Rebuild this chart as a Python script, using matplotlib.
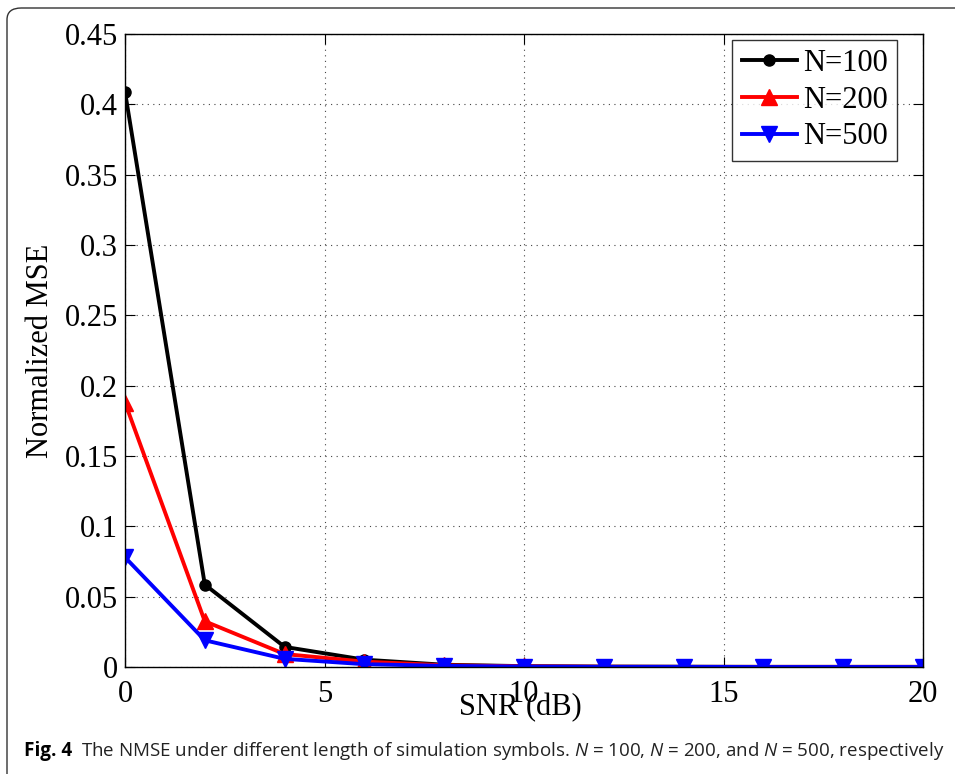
import matplotlib.pyplot as plt
import numpy as np
from matplotlib.patches import FancyBboxPatch

# --- data ---
snr_db = [0, 2, 4, 6, 8, 10, 12, 14, 16, 18, 20]
nmse_n100 = [0.409, 0.0586, 0.0143, 0.0052, 0.0016, 0.0006, 0.0003, 0.0002, 0.0001, 0.0001, 0.0001]
nmse_n200 = [0.188, 0.0325, 0.0092, 0.0038, 0.0012, 0.0005, 0.0002, 0.0001, 0.0001, 0.0001, 0.0001]
nmse_n500 = [0.078, 0.0190, 0.0058, 0.0020, 0.0008, 0.0003, 0.0001, 0.0001, 0.0000, 0.0000, 0.0000]

x_ticks = [0, 5, 10, 15, 20]
y_ticks = [0, 0.05, 0.1, 0.15, 0.2, 0.25, 0.3, 0.35, 0.4, 0.45]
y_tick_labels = ['0', '0.05', '0.1', '0.15', '0.2', '0.25', '0.3', '0.35', '0.4', '0.45']

plt.rcParams['mathtext.fontset'] = 'custom'
plt.rcParams['mathtext.it'] = 'Open Sans:italic'
plt.rcParams['mathtext.rm'] = 'Open Sans'

fig = plt.figure(figsize=(9.55, 7.74), dpi=100)
ax = fig.add_axes([125 / 955, 107 / 774, 798 / 955, 633 / 774])

# outer rounded frame of the journal figure
frame = FancyBboxPatch((7 / 955, -0.05), 1.2, 1.05 - 8 / 774,
                       boxstyle='round,pad=0,rounding_size=0.015',
                       transform=fig.transFigure, fill=False,
                       edgecolor='#333333', linewidth=1.0, clip_on=False)
fig.patches.append(frame)

serif = 'Liberation Serif'
ax.plot(snr_db, nmse_n100, color='black', linewidth=2.8, marker='o',
        markersize=8, markerfacecolor='black', label='N=100')
ax.plot(snr_db, nmse_n200, color='red', linewidth=2.8, marker='^',
        markersize=11, markerfacecolor='red', label='N=200')
ax.plot(snr_db, nmse_n500, color='blue', linewidth=2.8, marker='v',
        markersize=11, markerfacecolor='blue', label='N=500')

ax.set_xlim(0, 20)
ax.set_ylim(0, 0.45)
ax.set_xticks(x_ticks)
ax.set_xticklabels([str(t) for t in x_ticks])
ax.set_yticks(y_ticks)
ax.set_yticklabels(y_tick_labels)
ax.tick_params(direction='in', length=7, width=0.8, top=True, right=True,
               labelsize=22)
ax.tick_params(axis='x', pad=9)
ax.tick_params(axis='y', pad=5)
for lab in ax.get_xticklabels() + ax.get_yticklabels():
    lab.set_fontfamily(serif)
for s in ax.spines.values():
    s.set_linewidth(1.0)

ax.grid(True, linestyle=(0, (1, 4)), color='#444444', linewidth=0.8)

ax.set_xlabel('SNR (dB)', fontsize=22, fontfamily=serif)
ax.xaxis.set_label_coords(0.495, -0.041)
ax.set_ylabel('Normalized MSE', fontsize=22, fontfamily=serif)
ax.yaxis.set_label_coords(-0.088, 0.5)

leg = ax.legend(loc='upper right', bbox_to_anchor=(0.967, 0.9905),
                prop={'family': serif, 'size': 22},
                frameon=True, fancybox=False, edgecolor='black',
                handlelength=1.8, handletextpad=0.2, borderpad=0.3,
                labelspacing=0.25, borderaxespad=0.0)
leg.get_frame().set_linewidth(1.0)

caption = (r'The NMSE under different length of simulation symbols. '
           r'$\mathit{N}$ = 100, $\mathit{N}$ = 200, and $\mathit{N}$ = 500, respectively')
fig.text(24 / 955, 1 - 756 / 774, 'Fig. 4', fontsize=13.6, fontweight='bold',
         fontfamily='Open Sans', va='baseline', ha='left')
fig.text(81 / 955, 1 - 756 / 774, caption, fontsize=13.5,
         fontfamily='Open Sans', va='baseline', ha='left', color='#222222')

fig.savefig('out.png', dpi=100)
